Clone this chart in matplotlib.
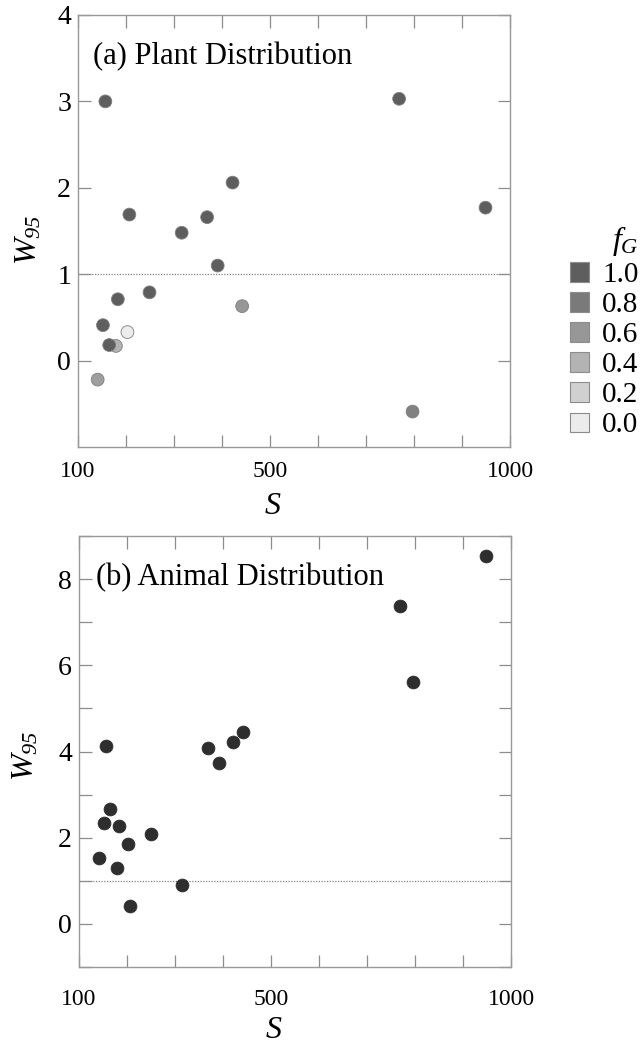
import numpy as np
import matplotlib
matplotlib.use('Agg')
import matplotlib.pyplot as plt
from matplotlib.colors import LinearSegmentedColormap
from matplotlib.patches import Patch
from matplotlib.ticker import MultipleLocator, FixedLocator

plt.rcParams['font.family'] = ['Liberation Serif', 'DejaVu Serif']
plt.rcParams['mathtext.fontset'] = 'custom'
plt.rcParams['mathtext.it'] = 'Liberation Serif:italic'
plt.rcParams['mathtext.rm'] = 'Liberation Serif:italic'

# Species richness S (same sites in both panels)
S = [141, 152, 157, 165, 179, 183, 203, 207, 249, 316, 369, 391, 422, 442, 769, 797, 949]

# (a) plant distribution
w95_plant = [-0.22, 0.41, 3.00, 0.18, 0.17, 0.71, 0.33, 1.69, 0.79, 1.48, 1.66, 1.10, 2.06, 0.63, 3.03, -0.59, 1.77]
fg_plant = [0.55, 1.0, 1.0, 1.0, 0.4, 1.0, 0.0, 1.0, 1.0, 1.0, 1.0, 1.0, 1.0, 0.6, 1.0, 0.75, 1.0]

# (b) animal distribution
S_animal = [141, 152, 157, 165, 179, 183, 203, 206, 249, 315, 369, 391, 421, 441, 768, 795, 948]
w95_animal = [1.52, 2.33, 4.13, 2.66, 1.29, 2.27, 1.85, 0.41, 2.08, 0.90, 4.07, 3.73, 4.22, 4.45, 7.37, 5.61, 8.53]

legend_levels = [1.0, 0.8, 0.6, 0.4, 0.2, 0.0]

grey_cmap = LinearSegmentedColormap.from_list('fg_greys', ['#ececec', '#5e5e5e'])

fig = plt.figure(figsize=(6.42, 10.44), dpi=100)
ax1 = fig.add_axes([78/642, 1 - 447/1044, 432/642, 432/1044])
ax2 = fig.add_axes([79/642, 1 - 967/1044, 432/642, 431/1044])


def style_axes(ax, xpad, s_y):
    ax.set_xlim(100, 1000)
    ax.xaxis.set_major_locator(FixedLocator([100, 500, 1000]))
    ax.xaxis.set_minor_locator(MultipleLocator(100))
    for sp in ax.spines.values():
        sp.set_color('#999999')
        sp.set_linewidth(1.0)
    ax.tick_params(which='both', direction='in', top=True, right=True,
                   length=9, width=0.9, color='#8c8c8c')
    ax.tick_params(axis='x', labelsize=17, pad=xpad)
    ax.tick_params(axis='y', labelsize=20, pad=5)
    ax.axhline(1, color='#808080', lw=0.9, ls=(0, (1, 1.2)), zorder=1)
    ax.set_xlabel('$S$', fontsize=23)
    ax.xaxis.set_label_coords(0.45, s_y)


# Panel (a)
style_axes(ax1, 10, -0.105)
ax1.set_ylim(-1, 4)
ax1.yaxis.set_major_locator(FixedLocator([0, 1, 2, 3, 4]))
order = np.argsort(fg_plant, kind='stable')
ax1.scatter(np.array(S)[order], np.array(w95_plant)[order], c=np.array(fg_plant)[order],
            cmap=grey_cmap, vmin=0, vmax=1, s=85, edgecolors='#7f7f7f',
            linewidths=0.6, zorder=3)
ax1.text(0.034, 0.886, '(a) Plant Distribution', transform=ax1.transAxes,
         fontsize=22, va='baseline', ha='left')
ax1.set_ylabel('$W_{95}$', fontsize=23)
ax1.yaxis.set_label_coords(-0.08, 0.48)

# Panel (b)
style_axes(ax2, 16, -0.113)
ax2.set_ylim(-1, 9)
ax2.yaxis.set_major_locator(FixedLocator([0, 2, 4, 6, 8]))
ax2.yaxis.set_minor_locator(MultipleLocator(1))
ax2.scatter(S_animal, w95_animal, color='#2e2e2e', s=85, edgecolors='#2e2e2e',
            linewidths=0.6, zorder=3)
ax2.text(0.04, 0.886, '(b) Animal Distribution', transform=ax2.transAxes,
         fontsize=22, va='baseline', ha='left')
ax2.set_ylabel('$W_{95}$', fontsize=23)
ax2.yaxis.set_label_coords(-0.09, 0.49)

# f_G legend
handles = [Patch(facecolor=grey_cmap(v), edgecolor='#8c8c8c', linewidth=0.8)
           for v in legend_levels]
labels = ['%.1f' % v for v in legend_levels]
leg = fig.legend(handles, labels, title='$f_G$', loc='upper left',
                 bbox_to_anchor=(570/642, 1 - 224/1044), frameon=False,
                 fontsize=21, title_fontsize=23, handlelength=0.65,
                 handleheight=0.65, handletextpad=0.45, labelspacing=0.14,
                 borderpad=0, borderaxespad=0)
leg._legend_box.align = 'right'

fig.savefig('out.png', dpi=100)
